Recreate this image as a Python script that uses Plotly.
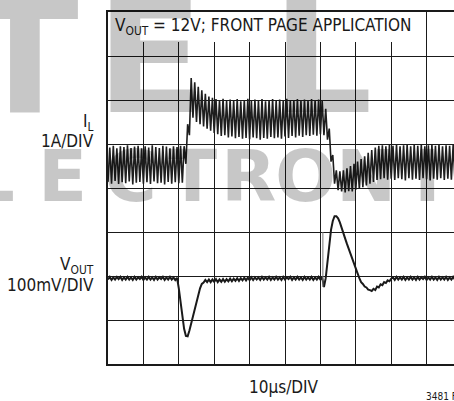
import plotly.graph_objects as go

# ---------------- data (screen divisions, 8 vertical divisions, 10 us / division) ----------------
T_STEP_US = 0.5  # scope sample spacing used when reading the traces

# inductor current trace (1A/DIV), read as valley/peak per half switching cycle
il_div = [
    4.14, 4.92, 4.10, 4.96, 4.16, 4.90, 4.09, 4.95, 4.13, 4.93,
    4.11, 4.97, 4.15, 4.91, 4.08, 4.94, 4.12, 4.96, 4.14, 4.90,
    4.10, 4.95, 4.13, 4.92, 4.09, 4.97, 4.15, 4.93, 4.11, 4.91,
    4.12, 4.96, 4.08, 4.94, 4.14, 4.90, 4.10, 4.95, 4.13, 4.93,
    4.11, 4.96, 4.12, 4.95, 4.55, 5.45, 5.20, 6.50, 5.60, 6.40,
    5.50, 6.30, 5.45, 6.22, 5.40, 6.14, 5.35, 6.08, 5.30, 6.05,
    5.25, 6.02, 5.22, 6.00, 5.18, 6.03, 5.20, 5.98, 5.15, 6.01,
    5.17, 5.99, 5.13, 6.02, 5.16, 5.97, 5.12, 6.00, 5.14, 6.03,
    5.11, 5.98, 5.15, 6.01, 5.13, 5.99, 5.10, 6.02, 5.14, 5.97,
    5.12, 6.00, 5.16, 6.02, 5.13, 5.98, 5.15, 6.01, 5.12, 5.99,
    5.17, 6.03, 5.14, 5.98, 5.18, 6.00, 5.15, 6.02, 5.19, 5.99,
    5.16, 6.01, 5.20, 5.98, 5.18, 6.02, 5.21, 6.00, 5.19, 6.01,
    5.22, 5.99, 5.20, 5.80, 5.10, 5.35, 4.60, 4.75, 4.10, 4.40,
    3.95, 4.38, 3.92, 4.40, 3.90, 4.45, 3.93, 4.50, 3.92, 4.55,
    3.96, 4.60, 3.98, 4.66, 4.02, 4.72, 4.06, 4.80, 4.10, 4.86,
    4.14, 4.92, 4.18, 4.96, 4.20, 4.97, 4.22, 4.95, 4.19, 4.98,
    4.21, 4.96, 4.18, 4.99, 4.22, 4.95, 4.20, 4.97, 4.17, 4.98,
    4.22, 4.95, 4.19, 4.98, 4.21, 4.96, 4.18, 4.99, 4.22, 4.95,
    4.20, 4.97, 4.17, 4.98, 4.21, 4.96, 4.19, 4.99, 4.22, 4.95,
    4.18, 4.97, 4.21, 4.96, 4.19, 4.98, 4.20,
]

# output voltage trace (100mV/DIV)
vout_div = [
    1.92, 1.98, 1.91, 1.97, 1.92, 1.98, 1.93, 1.98, 1.91, 1.97,
    1.92, 1.98, 1.92, 1.97, 1.91, 1.98, 1.92, 1.97, 1.93, 1.98,
    1.91, 1.97, 1.92, 1.98, 1.92, 1.97, 1.91, 1.98, 1.92, 1.97,
    1.93, 1.98, 1.91, 1.97, 1.92, 1.98, 1.92, 1.97, 1.91, 1.96,
    1.72, 1.42, 1.07, 0.80, 0.64, 0.63, 0.76, 0.93, 1.08, 1.22,
    1.40, 1.56, 1.72, 1.82, 1.85, 1.91, 1.86, 1.92, 1.86, 1.92,
    1.87, 1.93, 1.86, 1.92, 1.87, 1.93, 1.87, 1.93, 1.88, 1.94,
    1.88, 1.94, 1.89, 1.95, 1.89, 1.95, 1.90, 1.96, 1.90, 1.96,
    1.91, 1.97, 1.91, 1.97, 1.92, 1.97, 1.91, 1.98, 1.92, 1.97,
    1.92, 1.98, 1.91, 1.97, 1.92, 1.98, 1.92, 1.97, 1.91, 1.98,
    1.92, 1.97, 1.93, 1.98, 1.91, 1.97, 1.92, 1.98, 1.92, 1.97,
    1.91, 1.98, 1.92, 1.97, 1.92, 1.98, 1.91, 1.97, 1.92, 1.98,
    1.92, 1.97, 1.75, 1.95, 2.35, 2.75, 3.05, 3.25, 3.36, 3.36,
    3.31, 3.22, 3.08, 2.97, 2.85, 2.73, 2.61, 2.50, 2.39, 2.28,
    2.17, 2.06, 1.95, 1.86, 1.82, 1.76, 1.74, 1.69, 1.68, 1.66,
    1.71, 1.68, 1.76, 1.74, 1.81, 1.79, 1.86, 1.84, 1.90, 1.88,
    1.94, 1.97, 1.91, 1.98, 1.92, 1.97, 1.92, 1.98, 1.91, 1.97,
    1.92, 1.98, 1.92, 1.97, 1.91, 1.98, 1.92, 1.97, 1.93, 1.98,
    1.91, 1.97, 1.92, 1.98, 1.92, 1.97, 1.91, 1.98, 1.92, 1.97,
    1.92, 1.98, 1.91, 1.97, 1.92, 1.98, 1.92,
]

# faint switching glitch on VOUT at load release
glitch_t = [60.7, 60.7]
glitch_div = [3.00, 1.75]

t_us = [i * T_STEP_US for i in range(len(il_div))]

# axis / labels
title_text = "V<sub>OUT</sub> = 12V; FRONT PAGE APPLICATION"
il_label = ["I<sub>L</sub>", "1A/DIV"]
vout_label = ["V<sub>OUT</sub>", "100mV/DIV"]
x_label = "10µs/DIV"
fig_id = "3481 F05"
wm_row1 = ["T", "E", "L"]
wm_row2 = ["L", "E", "C", "T", "R", "O", "N", "I"]

# ---------------- layout geometry (pixels) ----------------
W, H = 454, 401
L, R, T, B = 108, 454, 12, 364
DIV_PX = 35.4
x_max = (R - L) / DIV_PX * 10.0


def pxx(px):
    return (px - L) / (R - L)


def pxy(py):
    return (B - py) / (B - T)


COND = "DejaVu Sans Condensed, Liberation Sans Narrow, Arial Narrow, sans-serif"
INK = "#1a1a1a"

fig = go.Figure()
fig.add_trace(go.Scatter(x=t_us, y=il_div, mode="lines",
                         line=dict(color="#1e1e1e", width=1.6), hoverinfo="skip"))
fig.add_trace(go.Scatter(x=t_us, y=vout_div, mode="lines",
                         line=dict(color=INK, width=2.0), hoverinfo="skip"))
fig.add_trace(go.Scatter(x=glitch_t, y=glitch_div, mode="lines",
                         line=dict(color="#777777", width=1.0), hoverinfo="skip"))

# white title box masking the grid
fig.add_shape(type="rect", xref="x", yref="y", x0=0, x1=(421 - L) / DIV_PX * 10,
              y0=(B - 42) / 44.0, y1=8, fillcolor="white", line=dict(width=0),
              layer="between")

ann = []
ann.append(dict(text=title_text, x=pxx(113), y=pxy(27), xanchor="left", yanchor="middle",
                font=dict(family=COND, size=17, color=INK)))
ann.append(dict(text=il_label[0], x=pxx(96), y=pxy(122), xanchor="right", yanchor="middle",
                font=dict(family=COND, size=17, color=INK)))
ann.append(dict(text=il_label[1], x=pxx(96), y=pxy(141), xanchor="right", yanchor="middle",
                font=dict(family=COND, size=17, color=INK)))
ann.append(dict(text=vout_label[0], x=pxx(96), y=pxy(265), xanchor="right", yanchor="middle",
                font=dict(family=COND, size=17, color=INK)))
ann.append(dict(text=vout_label[1], x=pxx(96), y=pxy(285), xanchor="right", yanchor="middle",
                font=dict(family=COND, size=17, color=INK)))
ann.append(dict(text=x_label, x=pxx(284), y=pxy(387), xanchor="center", yanchor="middle",
                font=dict(family=COND, size=17, color=INK)))
ann.append(dict(text=fig_id, x=pxx(424), y=pxy(396), xanchor="left", yanchor="middle",
                font=dict(family=COND, size=10, color=INK)))

# watermark (multiply-like translucent black)
WM = "rgba(0,0,0,0.22)"
for ch, cx in zip(wm_row1, [25, 150, 322]):
    ann.append(dict(text="<b>" + ch + "</b>", x=pxx(cx), y=pxy(57), xanchor="center",
                    yanchor="middle", font=dict(family="DejaVu Sans", size=158, color=WM)))
for ch, cx in zip(wm_row2, [-8, 62, 130, 192, 248, 305, 366, 427]):
    ann.append(dict(text="<b>" + ch + "</b>", x=pxx(cx), y=pxy(176), xanchor="center",
                    yanchor="middle", font=dict(family="DejaVu Sans", size=72, color=WM)))

for a in ann:
    a.update(xref="paper", yref="paper", showarrow=False)

fig.update_layout(
    width=W, height=H,
    margin=dict(l=L, r=W - R, t=T, b=H - B, pad=0),
    paper_bgcolor="white", plot_bgcolor="rgba(0,0,0,0)",
    showlegend=False,
    annotations=ann,
    xaxis=dict(range=[0, x_max], dtick=10, tick0=0, showticklabels=False, ticks="",
               showgrid=True, gridcolor=INK, gridwidth=1.2, zeroline=False,
               showline=True, linecolor=INK, linewidth=2, mirror=True, fixedrange=True),
    yaxis=dict(range=[0, 8], dtick=1, tick0=0, showticklabels=False, ticks="",
               showgrid=True, gridcolor=INK, gridwidth=1.2, zeroline=False,
               showline=True, linecolor=INK, linewidth=2, mirror=False, fixedrange=True),
)

fig.write_html("out.html", config={"displayModeBar": False},
               post_script="document.body.style.margin='0';document.body.style.overflow='hidden';")
